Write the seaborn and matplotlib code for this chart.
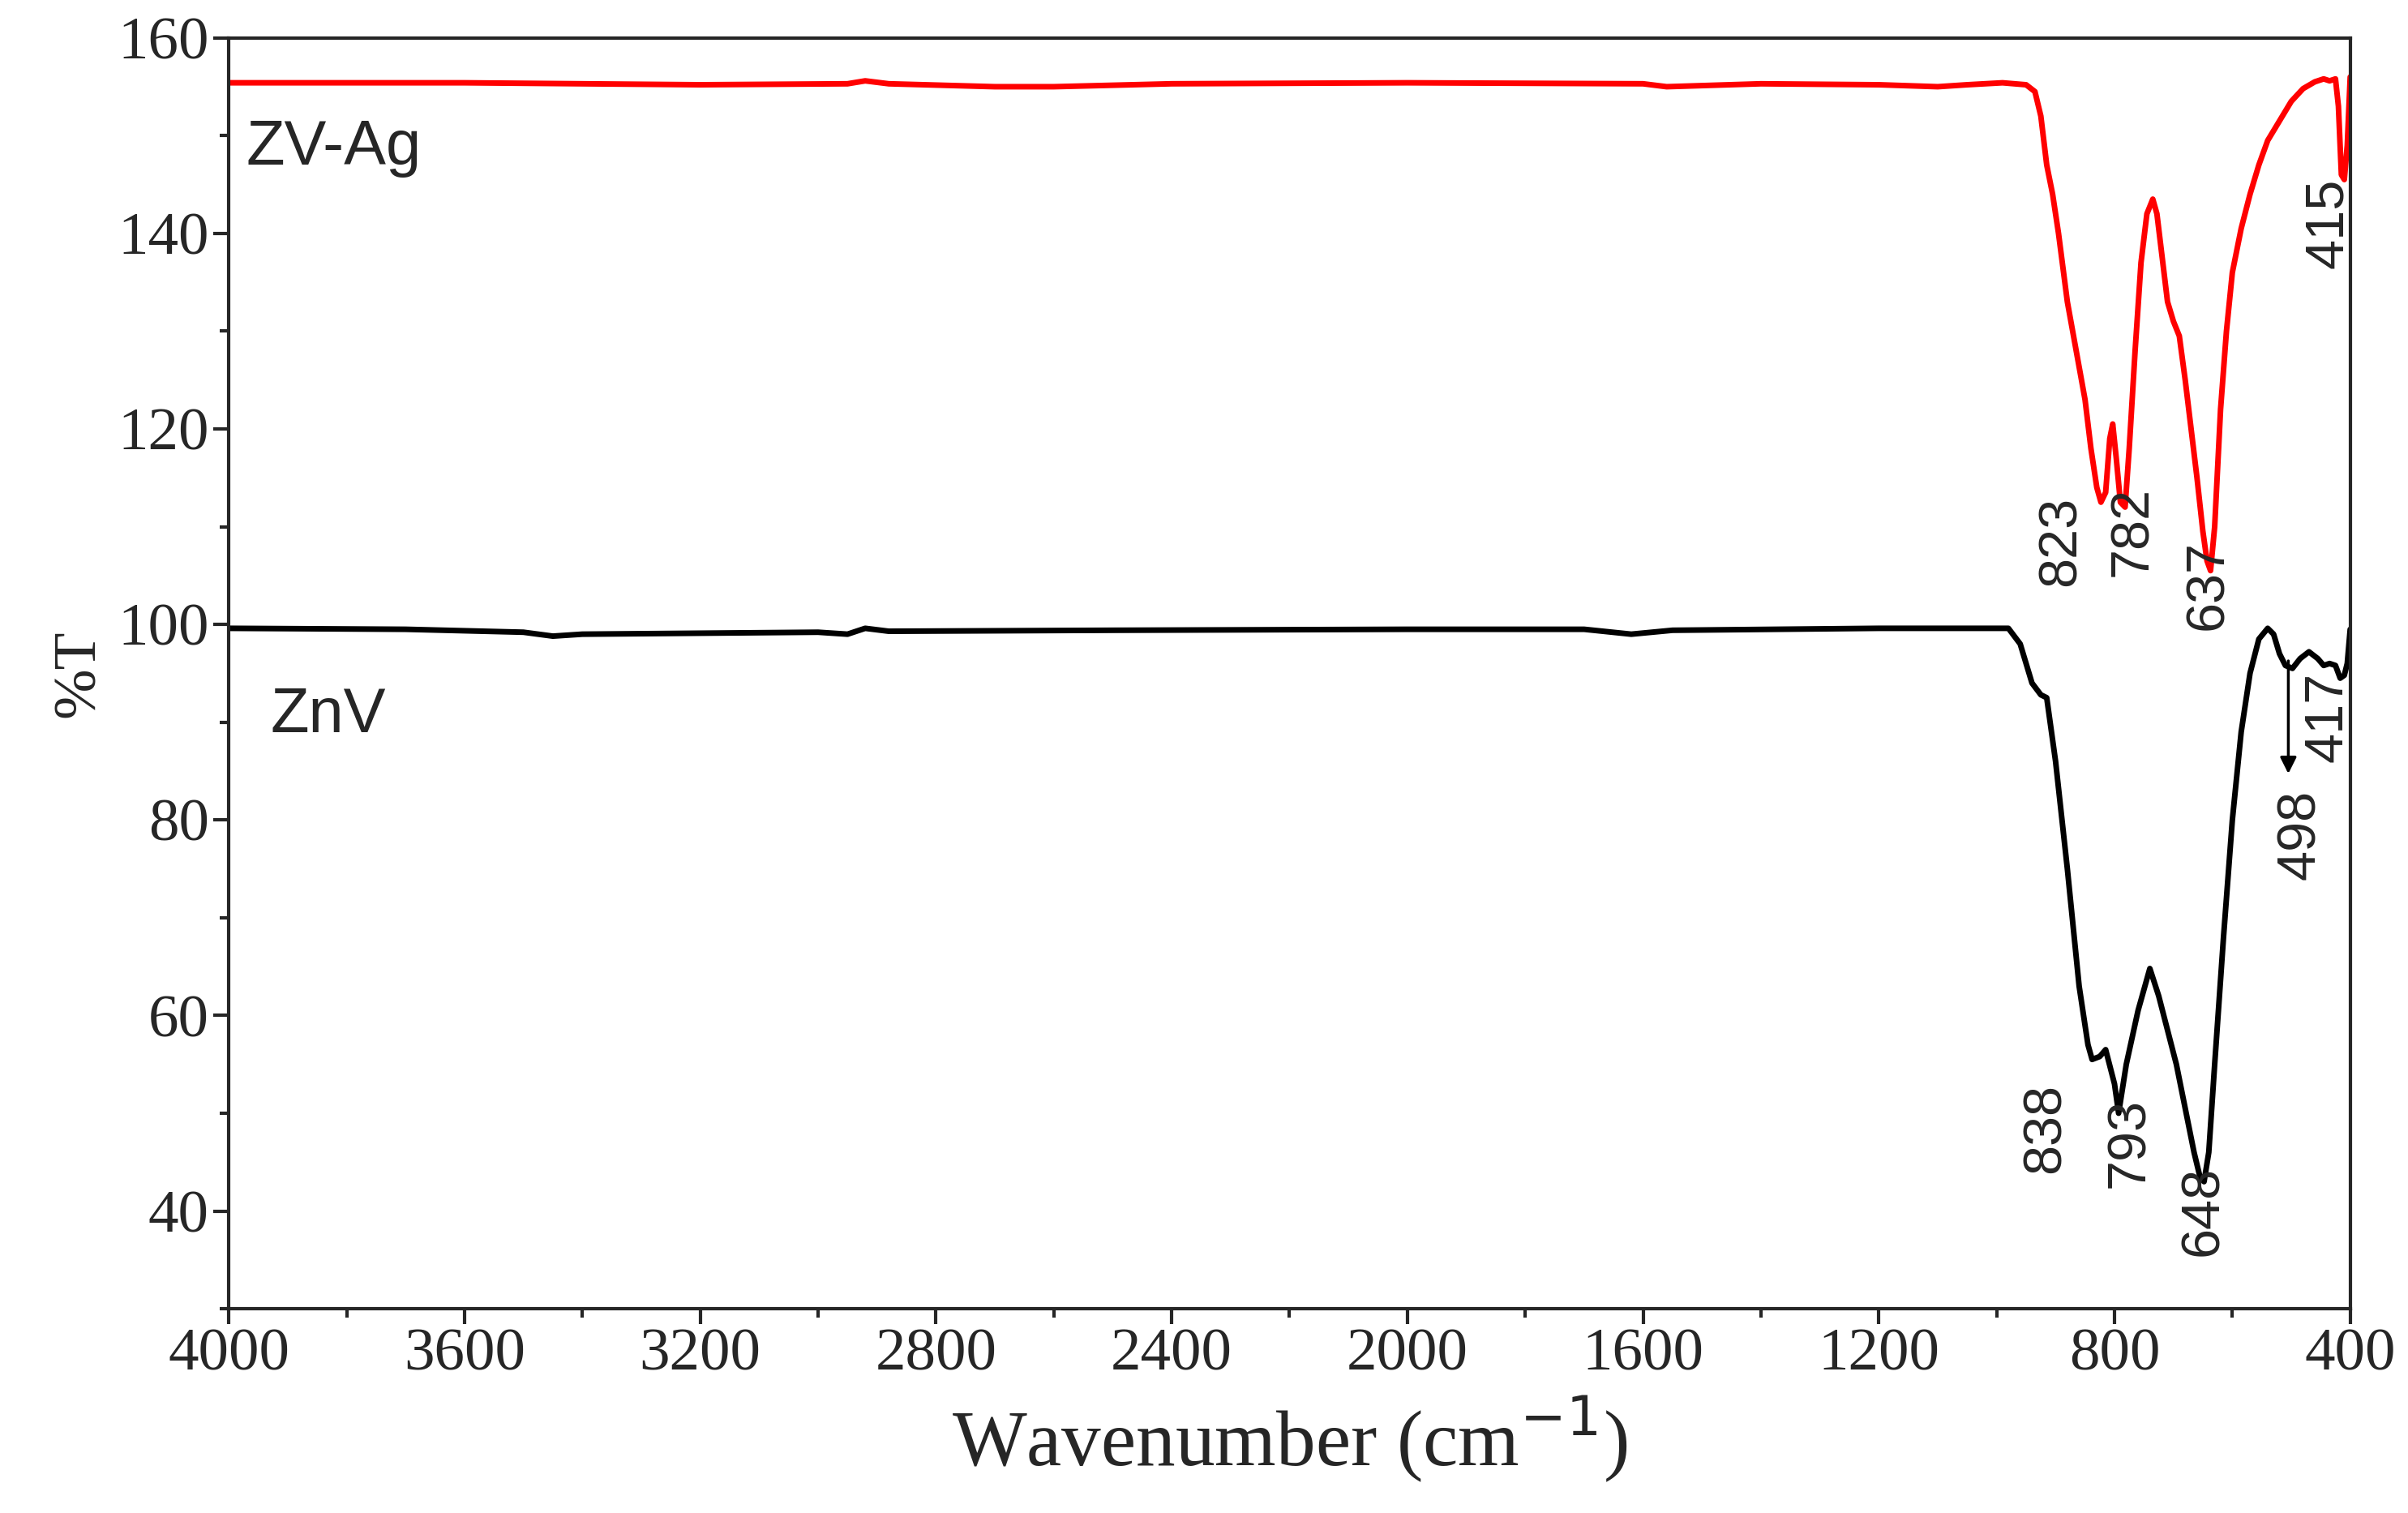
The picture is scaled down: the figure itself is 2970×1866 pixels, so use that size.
import matplotlib
matplotlib.use('Agg')
import pandas as pd
import seaborn as sns
import matplotlib.pyplot as plt
from matplotlib.ticker import MultipleLocator

# spectra (wavenumber, %T)
znv_wn = [4000, 3700, 3500, 3450, 3400, 3000, 2950, 2920, 2880, 2500, 2000, 1700, 1620, 1550, 1200,
          980, 960, 940, 925, 915, 900, 880, 860, 845, 838, 825, 815, 800, 793, 780, 760, 740, 725,
          710, 695, 680, 665, 655, 648, 640, 630, 615, 600, 585, 570, 555, 540, 530, 520, 510, 498,
          485, 470, 455, 445, 435, 425, 417, 410, 405, 400]
znv_t = [99.6, 99.5, 99.2, 98.8, 99.0, 99.2, 99.0, 99.6, 99.3, 99.4, 99.5, 99.5, 99.0, 99.4, 99.6,
         99.6, 98.0, 94.0, 92.8, 92.5, 86.0, 75.0, 63.0, 57.0, 55.5, 55.8, 56.5, 53.0, 50.0, 55.0,
         60.5, 64.8, 62.0, 58.5, 55.0, 50.5, 46.0, 43.5, 43.0, 46.0, 55.0, 68.0, 80.0, 89.0, 95.0,
         98.5, 99.6, 99.0, 97.0, 95.8, 95.5, 96.5, 97.2, 96.5, 95.8, 96.0, 95.8, 94.5, 94.8, 96.0, 99.5]

zvag_wn = [4000, 3600, 3200, 2950, 2920, 2880, 2700, 2600, 2400, 2000, 1600, 1560, 1400, 1200, 1100,
           1050, 990, 950, 935, 925, 915, 905, 895, 880, 865, 850, 840, 830, 823, 815, 808, 803,
           797, 790, 782, 775, 765, 755, 745, 735, 728, 720, 710, 700, 690, 680, 670, 660, 650,
           643, 637, 630, 620, 610, 600, 585, 570, 555, 540, 520, 500, 480, 460, 445, 435, 425,
           420, 415, 410, 405, 400]
zvag_t = [155.4, 155.4, 155.2, 155.3, 155.6, 155.3, 155.0, 155.0, 155.3, 155.4, 155.3, 155.0, 155.3, 155.2, 155.0,
          155.2, 155.4, 155.2, 154.5, 152.0, 147.0, 144.0, 140.0, 133.0, 128.0, 123.0, 118.0, 114.0,
          112.5, 113.5, 119.0, 120.5, 117.0, 112.5, 112.0, 118.0, 128.0, 137.0, 142.0, 143.5,
          142.0, 138.0, 133.0, 131.0, 129.5, 125.0, 120.0, 115.0, 109.5, 106.5, 105.5, 110.0,
          122.0, 130.0, 136.0, 140.5, 144.0, 147.0, 149.5, 151.5, 153.5, 154.8, 155.5, 155.8,
          155.6, 155.8, 153.0, 146.0, 145.5, 149.0, 156.0]

# peak labels and where their text sits
peak_labels = ['823', '782', '637', '415', '838', '793', '648', '417', '498']
label_x = [890, 768, 640, 437, 916, 774, 648, 437, 484]
label_y = [108.5, 109.5, 104, 141, 48.5, 47, 40, 90.5, 78.5]

df = pd.concat([
    pd.DataFrame({'wn': znv_wn, 'T': znv_t, 's': 'ZnV'}),
    pd.DataFrame({'wn': zvag_wn, 'T': zvag_t, 's': 'ZV-Ag'}),
])

sns.set_style('ticks')
fig = plt.figure(figsize=(29.7, 18.66), dpi=100)
ax = fig.add_axes([0.095, 0.135, 0.881, 0.84])
sns.lineplot(data=df, x='wn', y='T', hue='s', palette={'ZnV': 'black', 'ZV-Ag': 'red'},
             linewidth=5, sort=False, legend=False, ax=ax)

ax.set_xlim(4000, 400)
ax.set_ylim(30, 160)
ax.xaxis.set_major_locator(MultipleLocator(400))
ax.xaxis.set_minor_locator(MultipleLocator(200))
ax.yaxis.set_major_locator(MultipleLocator(20))
ax.yaxis.set_minor_locator(MultipleLocator(10))
ax.tick_params(which='major', length=14, width=3, labelsize=54)
ax.tick_params(which='minor', length=8, width=3)
for lab in ax.get_xticklabels() + ax.get_yticklabels():
    lab.set_fontfamily('Liberation Serif')
for sp in ax.spines.values():
    sp.set_linewidth(3)
ax.set_xlabel('Wavenumber (cm$^{-1}$)', fontsize=70, family='Liberation Serif', labelpad=10)
ax.set_ylabel('%T', fontsize=54, family='Liberation Serif', labelpad=10)

sans = 'Liberation Sans'
ax.text(3970, 147, 'ZV-Ag', fontsize=56, family=sans)
ax.text(3930, 89, 'ZnV', fontsize=56, family=sans)
for lab, x, y in zip(peak_labels, label_x, label_y):
    ax.text(x, y, lab, rotation=90, fontsize=48, family=sans, ha='center', va='center')
ax.annotate('', xy=(505, 84.5), xytext=(505, 96.5),
            arrowprops=dict(arrowstyle='-|>', color='black', lw=2.5, mutation_scale=30))

fig.savefig('out.png', dpi=100)
